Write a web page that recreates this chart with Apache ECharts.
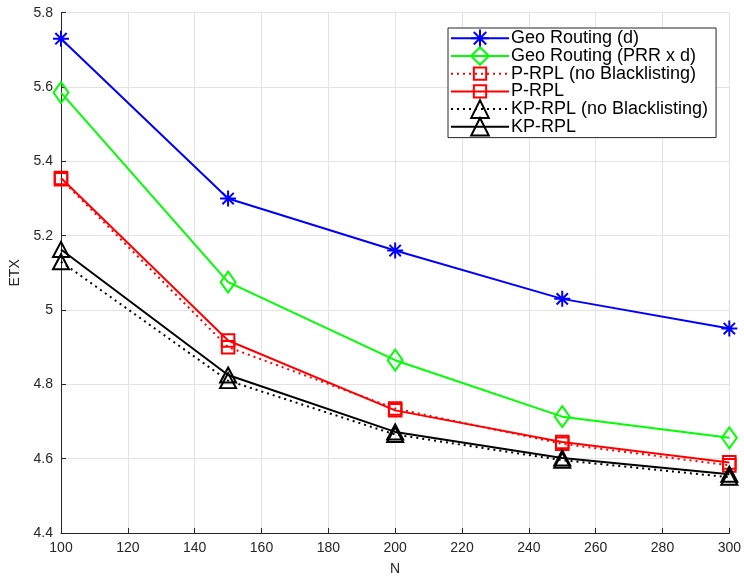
<!DOCTYPE html>
<html>
<head>
<meta charset="utf-8">
<script src="https://cdn.jsdelivr.net/npm/echarts@6/dist/echarts.min.js"></script>
<style>
  html, body { margin: 0; padding: 0; background: #fff; }
  #chart { width: 744px; height: 581px; }
</style>
</head>
<body>
<div id="chart"></div>
<script>
// Network size N on the x axis
const nodeCounts = [100, 150, 200, 250, 300];

// ETX per routing scheme
const geoD       = [5.73, 5.30, 5.16, 5.03, 4.95];
const geoPrrD    = [5.585, 5.075, 4.865, 4.713, 4.656];
const pRplNoBl   = [5.352, 4.900, 4.735, 4.640, 4.582];
const pRpl       = [5.355, 4.918, 4.730, 4.645, 4.590];
const kpRplNoBl  = [5.130, 4.810, 4.665, 4.596, 4.550];
const kpRpl      = [5.163, 4.825, 4.672, 4.602, 4.558];

const seriesNames = [
  'Geo Routing (d)',
  'Geo Routing (PRR x d)',
  'P-RPL (no Blacklisting)',
  'P-RPL',
  'KP-RPL (no Blacklisting)',
  'KP-RPL'
];

const xTicks = { min: 100, max: 300, step: 20 };
const yTicks = { min: 4.4, max: 5.8, step: 0.2 };

// asterisk marker: plus and cross overlaid
const asterisk = 'path://M10,0 L10,20 M0,10 L20,10 M2.9,2.9 L17.1,17.1 M2.9,17.1 L17.1,2.9';
// square marker; the outer moveTo points pad its box so it stays small in the legend
const paddedSquare = 'path://M0,0 M20,20 M3,3 L17,3 L17,17 L3,17 Z';

const FONT = 'Liberation Sans, Arial, Helvetica, sans-serif';
const AXIS = '#262626';

function makeSeries(name, values, color, symbol, size, dotted) {
  return {
    name: name,
    type: 'line',
    data: nodeCounts.map((n, i) => [n, values[i]]),
    symbol: symbol,
    symbolSize: size,
    symbolKeepAspect: false,
    showAllSymbol: true,
    lineStyle: { color: color, width: 2, type: dotted ? [2, 4] : 'solid' },
    itemStyle: { color: 'rgba(255,255,255,0)', borderColor: color, borderWidth: 2 },
    emphasis: { disabled: true }
  };
}

const chart = echarts.init(document.getElementById('chart'), null, { renderer: 'canvas' });

chart.setOption({
  animation: false,
  backgroundColor: '#fff',
  textStyle: { fontFamily: FONT },
  grid: { left: 61, right: 13, top: 12.7, bottom: 39.3 },
  legend: {
    orient: 'vertical',
    left: 448,
    top: 28,
    padding: [0.5, 8, 1, 2],
    itemWidth: 58,
    itemHeight: 22,
    itemGap: -1.9,
    backgroundColor: '#fff',
    borderColor: '#262626',
    borderWidth: 1,
    borderRadius: 0,
    textStyle: { fontFamily: FONT, fontSize: 18, lineHeight: 18, color: '#000', padding: [0, 0, 0, -3] },
    data: seriesNames
  },
  xAxis: {
    type: 'value',
    min: xTicks.min,
    max: xTicks.max,
    interval: xTicks.step,
    name: 'N',
    nameLocation: 'middle',
    nameGap: 29,
    nameTextStyle: { fontFamily: FONT, fontSize: 14, color: AXIS },
    axisLine: { show: true, lineStyle: { color: AXIS, width: 1 } },
    axisTick: { show: true, inside: true, length: 5, lineStyle: { color: AXIS } },
    axisLabel: { fontFamily: FONT, fontSize: 14, color: AXIS, margin: 8 },
    splitLine: { show: true, lineStyle: { color: '#e3e3e3', width: 1 } }
  },
  yAxis: {
    type: 'value',
    min: yTicks.min,
    max: yTicks.max,
    interval: yTicks.step,
    name: 'ETX',
    nameLocation: 'middle',
    nameGap: 36,
    nameTextStyle: { fontFamily: FONT, fontSize: 14, color: AXIS },
    axisLine: { show: true, lineStyle: { color: AXIS, width: 1 } },
    axisTick: { show: true, inside: true, length: 5, lineStyle: { color: AXIS } },
    axisLabel: {
      fontFamily: FONT, fontSize: 14, color: AXIS, margin: 8,
      formatter: v => String(parseFloat(v.toFixed(1)))
    },
    splitLine: { show: true, lineStyle: { color: '#e3e3e3', width: 1 } }
  },
  series: [
    makeSeries(seriesNames[0], geoD, '#0000ff', asterisk, 16, false),
    makeSeries(seriesNames[1], geoPrrD, '#00ff00', 'diamond', [15, 21], false),
    makeSeries(seriesNames[2], pRplNoBl, '#ff0000', paddedSquare, 17.9, true),
    makeSeries(seriesNames[3], pRpl, '#ff0000', paddedSquare, 17.9, false),
    makeSeries(seriesNames[4], kpRplNoBl, '#000000', 'triangle', [16, 15], true),
    makeSeries(seriesNames[5], kpRpl, '#000000', 'triangle', [16, 15], false)
  ]
});
</script>
</body>
</html>
